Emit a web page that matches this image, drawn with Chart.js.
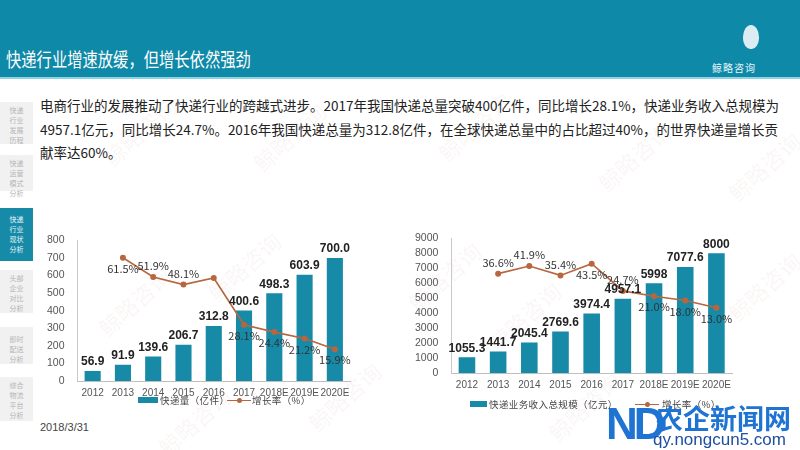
<!DOCTYPE html>
<html lang="zh">
<head>
<meta charset="UTF-8">
<title>快递行业增速放缓</title>
<style>
    body { margin: 0; width: 800px; height: 450px; overflow: hidden; background: #fff;
           font-family: "Noto Sans CJK SC", "Noto Sans", sans-serif; position: relative; }
    .header { position: absolute; left: 0; top: 0; width: 800px; height: 77px; background: #0f89a8; }
    .header-line { position: absolute; left: 0; top: 77px; width: 800px; height: 2px; background: #8fd3e2; }
    .title { position: absolute; left: 6px; top: 46px; color: #fff; font-size: 17px; letter-spacing: 0px;
             transform-origin: left center; transform: scale(0.9, 1.12); }
    .logo { position: absolute; left: 743px; top: 25px; width: 16px; height: 24px; background: #fff;
            border-radius: 50% 50% 45% 45%; opacity: 0.85; }
    .logo-text { position: absolute; left: 712px; top: 60px; color: #e8f6fa; font-size: 10px; letter-spacing: 1px; }
    .side { position: absolute; left: 0; width: 33px; background: #f1f1f1; color: #b5b5b5;
            font-size: 7px; line-height: 10px; text-align: center; padding-top: 3px; box-sizing: border-box; }
    .side.active { background: #168aa7; color: #e6f5f9; }
    .para { position: absolute; left: 40px; top: 94px; width: 750px; font-size: 13.5px; line-height: 23.5px; color: #222; }
    .date { position: absolute; left: 40px; top: 421px; font-size: 11px; color: #444; font-family: "Liberation Sans", sans-serif; }
    .wm { position: absolute; color: rgba(190, 120, 120, 0.07); font-size: 22px; transform: rotate(-42deg); white-space: nowrap; }
    canvas { position: absolute; }
    .legend { position: absolute; height: 12px; font-size: 9.5px; line-height: 12px; color: #444; letter-spacing: 0.4px; white-space: nowrap; }
    .legend span { position: absolute; top: 0; }
    .sw-bar { position: absolute; top: 3px; height: 6px; background: #168aa6; }
    .sw-line { position: absolute; top: 5.5px; height: 1.6px; background: #b8663f; }
    .sw-dot { position: absolute; top: 4px; width: 5px; height: 5px; border-radius: 50%; background: #b8663f; }
    .brand { position: absolute; left: 606px; top: 402px; color: #1f73d2; }
    .brand .nd { position: absolute; left: 0; top: 0; font-size: 44px; font-weight: bold; line-height: 44px; font-family: "Liberation Sans", sans-serif; letter-spacing: -4px; }
    .brand .cn { position: absolute; left: 50px; top: 0; font-size: 27px; font-weight: bold; line-height: 32px; white-space: nowrap; }
    .brand .url { position: absolute; left: 47px; top: 29px; font-size: 17px; line-height: 18px; color: #1e4fa0; font-family: "Liberation Sans", sans-serif; white-space: nowrap; }
</style>
</head>
<body>
<div class="header"></div>
<div class="header-line"></div>
<div class="title">快递行业增速放缓，但增长依然强劲</div>
<div class="logo"></div>
<div class="logo-text">鲸略咨询</div>

<div class="side" style="top:102px;height:42px;">快递<br>行业<br>发展<br>历程</div>
<div class="side" style="top:155px;height:36px;">快递<br>运营<br>模式<br>分析</div>
<div class="side active" style="top:208px;height:53px;padding-top:6px;">快递<br>行业<br>现状<br>分析</div>
<div class="side" style="top:270px;height:43px;">头部<br>企业<br>对比<br>分析</div>
<div class="side" style="top:327px;height:37px;padding-top:7px;">即时<br>配送<br>分析</div>
<div class="side" style="top:377px;height:44px;">综合<br>物流<br>平台<br>分析</div>

<div class="para">电商行业的发展推动了快递行业的跨越式进步。2017年我国快递总量突破400亿件，同比增长28.1%，快递业务收入总规模为4957.1亿元，同比增长24.7%。2016年我国快递总量为312.8亿件，在全球快递总量中的占比超过40%，的世界快递量增长贡献率达60%。</div>

<div class="wm" style="left:95px;top:115px;">鲸略咨询</div>
<div class="wm" style="left:245px;top:120px;">鲸略咨询</div>
<div class="wm" style="left:430px;top:110px;">鲸略咨询</div>
<div class="wm" style="left:590px;top:140px;">鲸略咨询</div>
<div class="wm" style="left:720px;top:150px;">鲸略咨询</div>
<div class="wm" style="left:90px;top:285px;">鲸略咨询</div>
<div class="wm" style="left:200px;top:250px;">鲸略咨询</div>
<div class="wm" style="left:150px;top:405px;">鲸略咨询</div>
<div class="wm" style="left:300px;top:380px;">鲸略咨询</div>
<div class="wm" style="left:400px;top:260px;">鲸略咨询</div>
<div class="wm" style="left:480px;top:300px;">鲸略咨询</div>
<div class="wm" style="left:540px;top:390px;">鲸略咨询</div>
<div class="wm" style="left:720px;top:270px;">鲸略咨询</div>

<canvas id="volumeChart" style="left:40px;top:229px;" width="316" height="176"></canvas>
<canvas id="revenueChart" style="left:408px;top:227px;" width="330" height="170"></canvas>

<!-- legends -->
<div class="legend" style="left:138px;top:394px;width:170px;">
    <div class="sw-bar" style="left:0;width:20px;"></div>
    <span style="left:22px;">快递量（亿件）</span>
    <div class="sw-line" style="left:89px;width:24px;"></div>
    <div class="sw-dot" style="left:98.5px;"></div>
    <span style="left:114px;">增长率（%）</span>
</div>
<div class="legend" style="left:470px;top:398px;width:260px;">
    <div class="sw-bar" style="left:0;width:17px;"></div>
    <span style="left:19px;">快递业务收入总规模（亿元）</span>
    <div class="sw-line" style="left:165px;width:24px;"></div>
    <div class="sw-dot" style="left:174.5px;"></div>
    <span style="left:192px;">增长率（%）</span>
</div>

<div class="date">2018/3/31</div>

<div class="brand">
    <div class="nd">ND</div>
    <div class="cn">农企新闻网</div>
    <div class="url">qy.nongcun5.com</div>
</div>

<script src="https://cdn.jsdelivr.net/npm/chart.js"></script>
<script>
    // data
    const years = ['2012', '2013', '2014', '2015', '2016', '2017', '2018E', '2019E', '2020E'];
    const volume = [56.9, 91.9, 139.6, 206.7, 312.8, 400.6, 498.3, 603.9, 700.0];
    const volumeGrowth = [null, 61.5, 51.9, 48.1, 51.4, 28.1, 24.4, 21.2, 15.9];
    const revenue = [1055.3, 1441.7, 2045.4, 2769.6, 3974.4, 4957.1, 5998, 7077.6, 8000];
    const revenueGrowth = [null, 36.6, 41.9, 35.4, 43.5, 24.7, 21.0, 18.0, 13.0];

    const barColor = '#168aa6';
    const lineColor = '#b8663f';

    // draws value labels next to bars and points
    const valueLabels = {
        id: 'valueLabels',
        afterDatasetsDraw(chart) {
            const ctx = chart.ctx;
            chart.data.datasets.forEach((ds, i) => {
                const lab = ds.valueLabel;
                if (!lab) return;
                const meta = chart.getDatasetMeta(i);
                ctx.save();
                ctx.font = lab.font;
                ctx.fillStyle = lab.color;
                ctx.textAlign = 'center';
                ctx.textBaseline = 'middle';
                meta.data.forEach((el, j) => {
                    const v = ds.data[j];
                    if (v == null) return;
                    const place = lab.place ? lab.place[j] : 'above';
                    if (!place) return;
                    let dy = place === 'above' ? -lab.gap : lab.gap;
                    ctx.fillText(lab.format(v), el.x, el.y + dy);
                });
                ctx.restore();
            });
        }
    };

    function makeChart(id, barLabel, bars, growth, yMax, yStep, gMin, gMax, barFmt, growthPlace, pad) {
        return new Chart(document.getElementById(id), {
            type: 'bar',
            data: {
                labels: years,
                datasets: [{
                    type: 'line',
                    label: '增长率（%）',
                    data: growth,
                    yAxisID: 'y2',
                    borderColor: lineColor,
                    backgroundColor: lineColor,
                    borderWidth: 1.6,
                    pointRadius: 2.2,
                    pointBackgroundColor: lineColor,
                    tension: 0,
                    order: 0,
                    valueLabel: {
                        font: '11px "Noto Sans CJK SC"',
                        color: '#333',
                        gap: 11,
                        place: growthPlace,
                        format: v => v.toFixed(1) + '%'
                    }
                }, {
                    label: barLabel,
                    data: bars,
                    yAxisID: 'y',
                    backgroundColor: barColor,
                    barPercentage: 0.56,
                    categoryPercentage: 0.95,
                    order: 1,
                    valueLabel: {
                        font: 'bold 12px "Liberation Sans"',
                        color: '#222',
                        gap: 9,
                        format: barFmt
                    }
                }]
            },
            options: {
                responsive: false,
                animation: false,
                layout: { padding: pad },
                plugins: {
                    legend: { display: false },
                    tooltip: { enabled: false }
                },
                scales: {
                    x: {
                        grid: { display: false, drawTicks: false },
                        border: { color: '#bfbfbf' },
                        ticks: { color: '#555', padding: 6, maxRotation: 0, autoSkip: false,
                                 font: { size: 10, family: '"Liberation Sans"' } }
                    },
                    y: {
                        min: 0, max: yMax,
                        grid: { display: false },
                        border: { color: '#c8c8c8' },
                        ticks: { stepSize: yStep, autoSkip: false, color: '#555', padding: 5,
                                 callback: v => String(v),
                                 font: { size: 10.5, family: '"Liberation Sans"' } }
                    },
                    y2: {
                        display: false,
                        min: gMin, max: gMax
                    }
                }
            },
            plugins: [valueLabels]
        });
    }

    makeChart('volumeChart', '快递量（亿件）', volume, volumeGrowth, 800, 100, 0, 70.2,
        v => v.toFixed(1),
        [null, 'below', 'above', 'above', null, 'below', 'below', 'below', 'below'],
        { top: 5, right: 6, left: 2, bottom: 0 });

    makeChart('revenueChart', '快递业务收入总规模（亿元）', revenue, revenueGrowth, 9000, 1000, -32, 61,
        v => Number.isInteger(v) ? String(v) : v.toFixed(1),
        [null, 'above', 'above', 'above', 'below', 'above', 'below', 'below', 'below'],
        { top: 5, right: 6, left: 2, bottom: 0 });
</script>
</body>
</html>
